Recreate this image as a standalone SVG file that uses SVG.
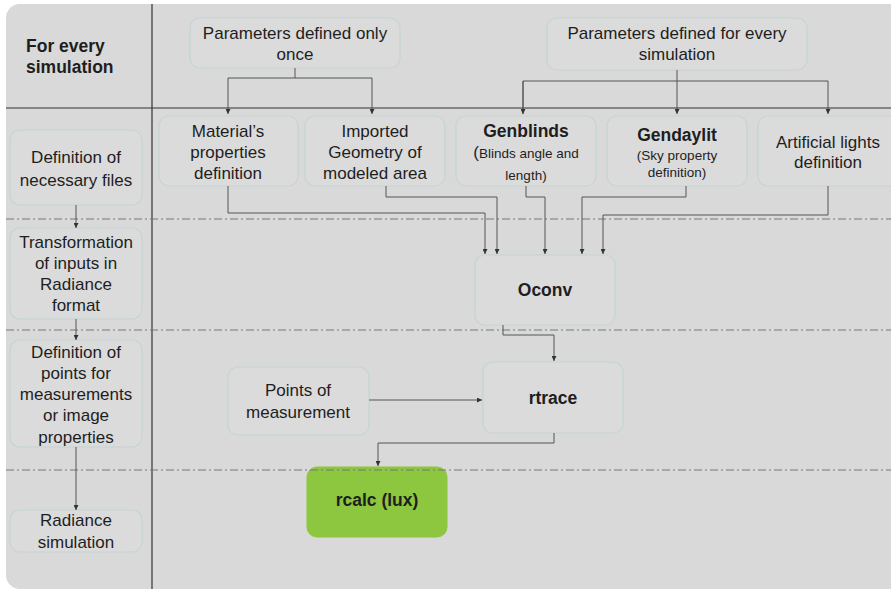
<svg xmlns="http://www.w3.org/2000/svg" width="891" height="591" viewBox="0 0 891 591">
<defs>
<marker id="ah" viewBox="0 0 10 10" refX="10" refY="5" markerWidth="5" markerHeight="5" orient="auto" markerUnits="userSpaceOnUse">
<path d="M0,0 L10,5 L0,10 z" fill="#333"/>
</marker>
<style>
.bg{fill:#d9d9d9}
.node{fill:#dbdbdb;stroke:#c4d6d1;stroke-width:1.2}
.green{fill:#8dc63f;stroke:#8dc63f}
text{font-family:"Liberation Sans",Arial,sans-serif;fill:#1e1e1e;text-anchor:middle}
.t{font-size:17px}
.s{font-size:13.5px}
.b{font-weight:bold;font-size:17.5px}
.conn{fill:none;stroke:#555;stroke-width:1}
.solid{stroke:#333;stroke-width:1.2}
.dash{stroke:#777;stroke-width:1;stroke-dasharray:8,3,2,3}
</style>
</defs>
<rect x="0" y="0" width="891" height="591" fill="#ffffff"/>
<rect class="bg" x="6" y="4" width="900" height="585" rx="14"/>
<line class="solid" x1="152" y1="4" x2="152" y2="589"/>
<line class="solid" x1="6" y1="108" x2="891" y2="108"/>
<text class="b" x="26" y="52" style="text-anchor:start">For every</text>
<text class="b" x="26" y="73" style="text-anchor:start">simulation</text>

<g id="n-def-files"><rect class="node" x="10" y="130" width="132" height="75" rx="10"/>
<text class="t" x="76" y="163">Definition of</text><text class="t" x="76" y="186">necessary files</text></g>
<g id="n-transform"><rect class="node" x="10" y="228" width="132" height="91" rx="10"/>
<text class="t" x="76" y="248">Transformation</text><text class="t" x="76" y="269">of inputs in</text><text class="t" x="76" y="290">Radiance</text><text class="t" x="76" y="311">format</text></g>
<g id="n-points-def"><rect class="node" x="10" y="340" width="132" height="107" rx="10"/>
<text class="t" x="76" y="358">Definition of</text><text class="t" x="76" y="379">points for</text><text class="t" x="76" y="400">measurements</text><text class="t" x="76" y="421">or image</text><text class="t" x="76" y="443">properties</text></g>
<g id="n-radiance"><rect class="node" x="10" y="510" width="132" height="42" rx="10"/>
<text class="t" x="76" y="526">Radiance</text><text class="t" x="76" y="548">simulation</text></g>

<g id="n-once"><rect class="node" x="190" y="18" width="210" height="50" rx="10"/>
<text class="t" x="295" y="39">Parameters defined only</text><text class="t" x="295" y="60">once</text></g>
<g id="n-every"><rect class="node" x="547" y="18" width="260" height="52" rx="10"/>
<text class="t" x="677" y="39">Parameters defined for every</text><text class="t" x="677" y="60">simulation</text></g>

<g id="n-material"><rect class="node" x="159" y="116" width="139" height="70" rx="10"/>
<text class="t" x="228" y="137">Material’s</text><text class="t" x="228" y="158">properties</text><text class="t" x="228" y="179">definition</text></g>
<g id="n-geometry"><rect class="node" x="305" y="116" width="140" height="70" rx="10"/>
<text class="t" x="375" y="137">Imported</text><text class="t" x="375" y="158">Geometry of</text><text class="t" x="375" y="179">modeled area</text></g>
<g id="n-genblinds"><rect class="node" x="456" y="116" width="140" height="70" rx="10"/>
<text class="b" x="526" y="137">Genblinds</text><text class="s" x="526" y="158"><tspan style="font-size:17px">(</tspan>Blinds angle and</text><text class="s" x="526" y="180">length)</text></g>
<g id="n-gendaylit"><rect class="node" x="607" y="116" width="140" height="70" rx="10"/>
<text class="b" x="677" y="141">Gendaylit</text><text class="s" x="677" y="160">(Sky property</text><text class="s" x="677" y="177">definition)</text></g>
<g id="n-artificial"><rect class="node" x="758" y="116" width="145" height="70" rx="10"/>
<text class="t" x="828" y="148">Artificial lights</text><text class="t" x="828" y="168">definition</text></g>

<g id="n-oconv"><rect class="node" x="475" y="255" width="140" height="70" rx="10"/>
<text class="b" x="545" y="296">Oconv</text></g>
<g id="n-rtrace"><rect class="node" x="483" y="362" width="140" height="71" rx="10"/>
<text class="b" x="553" y="404">rtrace</text></g>
<g id="n-points"><rect class="node" x="228" y="367" width="141" height="68" rx="10"/>
<text class="t" x="298" y="396">Points of</text><text class="t" x="298" y="418">measurement</text></g>
<g id="n-rcalc"><rect class="green" x="307" y="467" width="140" height="70" rx="10"/>
<text class="b" x="377" y="506">rcalc (lux)</text></g>

<line class="dash" x1="6" y1="219" x2="891" y2="219"/>
<line class="dash" x1="6" y1="330" x2="891" y2="330"/>
<line class="dash" x1="6" y1="470" x2="891" y2="470"/>

<g id="connectors">
<path class="conn" d="M76,205 V228" marker-end="url(#ah)"/>
<path class="conn" d="M76,319 V340" marker-end="url(#ah)"/>
<path class="conn" d="M76,447 V510" marker-end="url(#ah)"/>
<path class="conn" d="M295,68 V78 H228 V114" marker-end="url(#ah)"/>
<path class="conn" d="M295,78 H372 V114" marker-end="url(#ah)"/>
<path class="conn" d="M677,70 V114" marker-end="url(#ah)"/>
<path class="conn" d="M523,114 V81 H828 V114" marker-end="url(#ah)"/>
<path class="conn" d="M523,81 V114" marker-end="url(#ah)"/>
<path class="conn" d="M228,186 V213 H485 V254" marker-end="url(#ah)"/>
<path class="conn" d="M386,186 V197 H497 V254" marker-end="url(#ah)"/>
<path class="conn" d="M526,186 V197 H545 V254" marker-end="url(#ah)"/>
<path class="conn" d="M686,186 V197 H582 V254" marker-end="url(#ah)"/>
<path class="conn" d="M828,186 V215 H603 V254" marker-end="url(#ah)"/>
<path class="conn" d="M503,325 V335 H554 V361" marker-end="url(#ah)"/>
<path class="conn" d="M369,400 H482" marker-end="url(#ah)"/>
<path class="conn" d="M554,433 V443 H378 V466" marker-end="url(#ah)"/>
</g>
</svg>
